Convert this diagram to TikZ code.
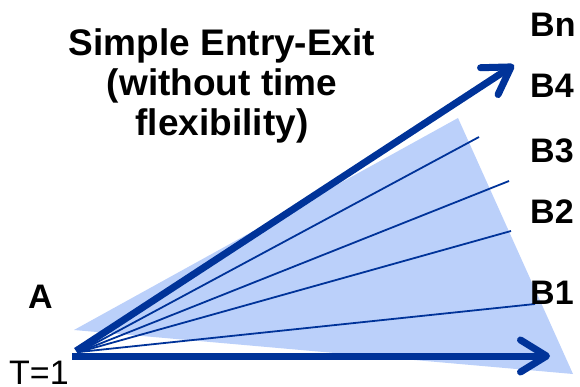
\documentclass[tikz,border=0pt]{standalone}
\usepackage{fontspec}
\setmainfont{Liberation Sans}
\usetikzlibrary{arrows.meta}
\definecolor{darkblue}{RGB}{0,51,153}
\definecolor{fanblue}{RGB}{187,208,250}
\begin{document}
\begin{tikzpicture}[x=1pt, y=-1pt,
  lbl/.style={anchor=base west, inner sep=0pt, font=\fontsize{34}{40}\selectfont\bfseries},
  thin/.style={darkblue, line width=1.8pt},
  bigarrow/.style={darkblue, line width=7pt, -{Straight Barb[length=26pt, width=32pt, line cap=round, line join=round]}}]
\useasboundingbox (0,0) rectangle (580,387);
% Fan (shaded)
\fill[fanblue] (74,330) -- (458,118) -- (573,374) -- cycle;
% Points
\coordinate (orig) at (79,352);
\coordinate (b1) at (535,304);
\coordinate (b2) at (511,231);
\coordinate (b3) at (509,181);
\coordinate (b4) at (479,137);
\coordinate (tstart) at (72,356);
\coordinate (tend) at (550,356);
\coordinate (bn) at (514,65);
% Thin lines
\draw[thin] (orig) -- (b1);
\draw[thin] (orig) -- (b2);
\draw[thin] (orig) -- (b3);
\draw[thin] (orig) -- (b4);
% Arrows
\draw[bigarrow] (tstart) -- (tend);
\draw[bigarrow] (76,351) -- (bn);
% Labels
\node[align=center, inner sep=0pt, font=\fontsize{37}{40}\selectfont\bfseries] (title) at (222,86) {Simple Entry-Exit\\(without time\\flexibility)};
\node[lbl] (lbn) at (530,37) {Bn};
\node[lbl] (lb4) at (530,98) {B4};
\node[lbl] (lb3) at (530,163) {B3};
\node[lbl] (lb2) at (530,223) {B2};
\node[lbl] (lb1) at (530,304) {B1};
\node[lbl] (la) at (28,308) {A};
\node[anchor=base west, inner sep=0pt, font=\fontsize{34}{40}\selectfont] (lt) at (9,384) {T=1};
\end{tikzpicture}
\end{document}
